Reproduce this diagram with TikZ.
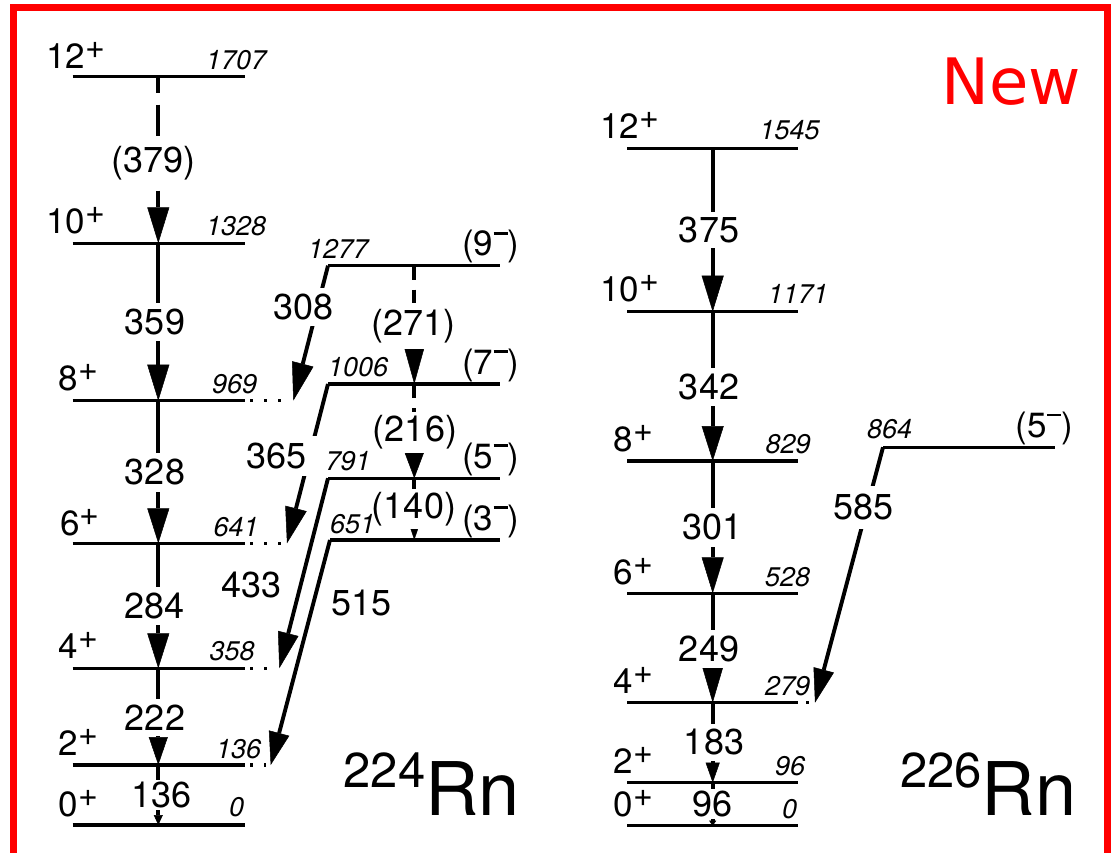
\documentclass[tikz,border=0pt]{standalone}
\usepackage{fontspec}
\setmainfont{TeX Gyre Heros}
\newfontfamily\dejavu{DejaVu Sans}
\usetikzlibrary{arrows.meta}
\newcommand{\spinp}[1]{#1\raisebox{10pt}{\fontsize{34}{34}\selectfont +}}
\newcommand{\spinm}[1]{(#1\hspace{0.5pt}\raisebox{21pt}{\rule{14pt}{2.6pt}})}
\begin{document}
\begin{tikzpicture}[x=1pt,y=-1pt,
  lev/.style={line width=3.2pt},
  tr/.style={line width=3.9pt},
  ah/.style 2 args={-{Triangle[length=#1,width=#2,line width=0.5pt]}},
  dotext/.style={line width=3.2pt, dash pattern=on 3pt off 11pt},
  dlong/.style={dash pattern=on 31pt off 12pt, dash phase=15pt},
  dshort/.style={dash pattern=on 14pt off 10pt},
  lab/.style={fill=white, inner xsep=2pt, inner ysep=6pt, font=\fontsize{36}{36}\selectfont},
  spin/.style={anchor=base west, inner sep=0pt, font=\fontsize{35}{35}\selectfont},
  spinr/.style={anchor=base east, inner sep=0pt, font=\fontsize{35}{35}\selectfont},
  en/.style={anchor=base west, inner sep=0pt, font=\fontsize{27}{27}\selectfont\itshape},
  isotope/.style={anchor=base west, inner sep=0pt},
]
\useasboundingbox (0,0) rectangle (1113,853);
\clip (0,0) rectangle (1113,853);

% red frame
\draw[red, line width=7pt] (13,880) -- (13,8) -- (1107,8) -- (1107,880);

% ---------- 224Rn ground band ----------
\foreach \n/\y in {A12/76.7, A10/243.3, A8/400.7, A6/543.3, A4/668.3, A2/765, A0/825}{
  \coordinate (\n l) at (72.7,\y);
  \coordinate (\n r) at (245,\y);
  \coordinate (\n) at (158.3,\y);
  \draw[lev] (\n l) -- (\n r);
}
% ---------- 224Rn negative parity band ----------
\foreach \n/\y/\k in {N9/265.7/328, N7/384/328, N5/478.3/328, N3/540/330}{
  \coordinate (\n k) at (\k,\y);
  \coordinate (\n r) at (500,\y);
  \coordinate (\n) at (414.3,\y);
  \draw[lev] (\n k) -- (\n r);
}
% ---------- 226Rn ground band ----------
\foreach \n/\y in {B12/148.3, B10/311.7, B8/461, B6/593.3, B4/702.7, B2/782.7, B0/825.7}{
  \coordinate (\n l) at (627,\y);
  \coordinate (\n r) at (798.3,\y);
  \coordinate (\n) at (712.7,\y);
  \draw[lev] (\n l) -- (\n r);
}
\coordinate (B5k) at (883,447.3);
\coordinate (B5r) at (1055,447.3);
\draw[lev] (B5k) -- (B5r);

% arrow end points of interband transitions
\coordinate (T8) at (293.3,400.7);
\coordinate (T6) at (287,543.3);
\coordinate (T4) at (279.3,668.3);
\coordinate (T2) at (270.7,765);
\coordinate (U4) at (815,702.7);

% dotted extensions
\draw[dotext] (250,400.7) -- (287,400.7);
\draw[dotext] (250,543.3) -- (281,543.3);
\draw[dotext] (250,668.3) -- (270,668.3);
\draw[dotext] (250,765) -- (266,765);
\draw[dotext] (806,702.7) -- (809,702.7);

% ---------- transitions 224Rn ----------
\draw[tr, dlong, ah={36pt}{22pt}] (A12) -- (A10);
\draw[tr, ah={36pt}{22pt}] (A10) -- (A8);
\draw[tr, ah={35pt}{22pt}] (A8) -- (A6);
\draw[tr, ah={35pt}{22pt}] (A6) -- (A4);
\draw[tr, ah={28pt}{19pt}] (A4) -- (A2);
\draw[tr, ah={10pt}{9pt}] (A2) -- (A0);
\draw[tr, dshort, ah={38pt}{21pt}] (N9) -- (N7);
\draw[tr, dshort, ah={28pt}{21pt}] (N7) -- (N5);
\draw[tr, ah={12pt}{8pt}] (N5) -- (N3);
\draw[tr, ah={38pt}{22pt}] (N9k) -- (T8);
\draw[tr, ah={36pt}{22pt}] (N7k) -- (T6);
\draw[tr, ah={36pt}{21pt}] (N5k) -- (T4);
\draw[tr, ah={33pt}{21pt}] (N3k) -- (T2);

% ---------- transitions 226Rn ----------
\draw[tr, ah={36pt}{22pt}] (B12) -- (B10);
\draw[tr, ah={35pt}{22pt}] (B10) -- (B8);
\draw[tr, ah={36pt}{22pt}] (B8) -- (B6);
\draw[tr, ah={36pt}{21pt}] (B6) -- (B4);
\draw[tr, ah={20pt}{14pt}] (B4) -- (B2);
\draw[tr, ah={5pt}{7pt}] (B2) -- (B0);
\draw[tr, ah={34pt}{21pt}] (B5k) -- (U4);

% ---------- transition labels ----------
\node[lab] (g379) at (153.7,163.5) {(379)};
\node[lab] (g359) at (155,321.7) {359};
\node[lab] (g328) at (155,472.5) {328};
\node[lab] (g284) at (154.3,605.8) {284};
\node[lab] (g222) at (155,717.5) {222};
\node[lab, inner ysep=2pt] (g136) at (161.7,795) {136};
\node[lab] (g308) at (303.3,306.7) {308};
\node[lab, inner xsep=11pt, inner ysep=7pt] (g365) at (276.7,455.8) {365};
\node[lab] (g433) at (251.7,585) {433};
\node[lab] (g515) at (361.7,603.3) {515};
\node[lab] (g271) at (413.3,325.8) {(271)};
\node[lab, inner ysep=4pt] (g216) at (415,432.5) {(216)};
\node[lab, inner ysep=3pt] (g140) at (414,509.2) {(140)};

\node[lab, inner ysep=5pt] (h375) at (709,230) {375};
\node[lab] (h342) at (709,386.7) {342};
\node[lab] (h301) at (712.5,527.5) {301};
\node[lab] (h249) at (709,649.2) {249};
\node[lab, inner ysep=5pt] (h183) at (714,742.5) {183};
\node[lab, inner ysep=2pt] (h96) at (712.5,804.2) {96};
\node[lab, inner ysep=8pt] (h585) at (863.3,507.5) {585};

% ---------- spin labels ----------
\node[spin] (s12a) at (46,68.3) {\spinp{12}};
\node[spin] (s10a) at (46,233.3) {\spinp{10}};
\node[spin] (s8a) at (58.5,390) {\spinp{8}};
\node[spin] (s6a) at (60,535) {\spinp{6}};
\node[spin] (s4a) at (58.5,658.3) {\spinp{4}};
\node[spin] (s2a) at (58.5,755) {\spinp{2}};
\node[spin] (s0a) at (58.5,816.7) {\spinp{0}};
\node[spinr] (s9n) at (519.5,255.7) {\spinm{9}};
\node[spinr] (s7n) at (519.5,374) {\spinm{7}};
\node[spinr] (s5n) at (519.5,468) {\spinm{5}};
\node[spinr] (s3n) at (519.5,530) {\spinm{3}};

\node[spin] (s12b) at (600,138.3) {\spinp{12}};
\node[spin] (s10b) at (600,301.7) {\spinp{10}};
\node[spin] (s8b) at (613.5,451.7) {\spinp{8}};
\node[spin] (s6b) at (613.5,584) {\spinp{6}};
\node[spin] (s4b) at (613.5,693.3) {\spinp{4}};
\node[spin] (s2b) at (613.5,773.3) {\spinp{2}};
\node[spin] (s0b) at (613.5,816.7) {\spinp{0}};
\node[spinr] (s5b) at (1073,437.3) {\spinm{5}};

% ---------- energy labels ----------
\node[en] (e1707) at (206,69.3) {1707};
\node[en] (e1328) at (206,235) {1328};
\node[en] (e969) at (212,393.3) {969};
\node[en] (e641) at (213.5,536.7) {641};
\node[en] (e358) at (209.5,660) {358};
\node[en] (e136) at (216,758.3) {136};
\node[en] (e0a) at (229,816.7) {0};
\node[en] (e1277) at (308,258.3) {1277};
\node[en] (e1006) at (328,376.7) {1006};
\node[en] (e791) at (325.5,470) {791};
\node[en] (e651) at (330,533.3) {651};

\node[en] (e1545) at (759.5,140) {1545};
\node[en] (e1171) at (768,303) {1171};
\node[en] (e829) at (765.5,453.3) {829};
\node[en] (e528) at (765,586.7) {528};
\node[en] (e279) at (765,695) {279};
\node[en] (e96) at (775,775) {96};
\node[en] (e0b) at (782,818.3) {0};
\node[en] (e864) at (867,438.3) {864};

% ---------- nucleus names and tag ----------
\node[isotope] (iso224) at (343.5,815) {\fontsize{49}{49}\selectfont\raisebox{28pt}{224}\fontsize{74}{74}\selectfont Rn};
\node[isotope] (iso226) at (900,815) {\fontsize{49}{49}\selectfont\raisebox{28pt}{226}\fontsize{74}{74}\selectfont Rn};
\node[isotope, text=red, font=\dejavu\fontsize{64}{64}\selectfont] (new) at (941,105) {New};
\end{tikzpicture}
\end{document}
